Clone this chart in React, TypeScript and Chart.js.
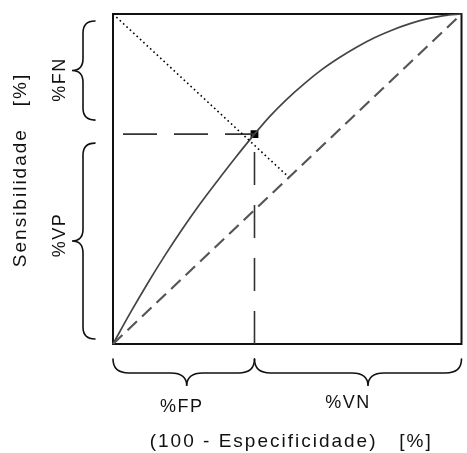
import React, { useEffect, useRef } from "react";
import { Chart, registerables } from "chart.js";

Chart.register(...registerables);

// ROC curve (x = 100 - especificidade, y = sensibilidade), in %
const rocX = [0, 5, 10, 15, 20, 25, 30, 35, 40.6, 45, 50, 55, 60, 65, 70, 75, 80, 85, 90, 95, 100];
const rocY = [0, 9.5, 18.5, 27, 35, 42.5, 49.5, 56.3, 63.6, 69, 74.3, 79, 83.2, 86.8, 90, 92.8, 95.1, 97, 98.5, 99.5, 100];

// chance diagonal
const diagX = [0, 100];
const diagY = [0, 100];

// dotted line from top-left corner towards the diagonal
const dotX = [0, 51];
const dotY = [100, 50];

// operating point
const cutX = 40.6;
const cutY = 63.6;

// labels
const yBraceLabels = ["%FN", "%VP"];
const xBraceLabels = ["%FP", "%VN"];
const xTitle = "(100 - Especificidade)   [%]";
const yTitle = "Sensibilidade   [%]";

const FONT = '"Liberation Sans", Arial, sans-serif';

function vBrace(ctx: CanvasRenderingContext2D, xs: number, y1: number, y2: number, ym: number, curl: number, tip: number) {
  const r = 12;
  ctx.beginPath();
  ctx.moveTo(xs + curl, y1);
  ctx.quadraticCurveTo(xs, y1, xs, y1 + r);
  ctx.lineTo(xs, ym - r);
  ctx.quadraticCurveTo(xs, ym, xs - tip, ym);
  ctx.quadraticCurveTo(xs, ym, xs, ym + r);
  ctx.lineTo(xs, y2 - r);
  ctx.quadraticCurveTo(xs, y2, xs + curl, y2);
  ctx.stroke();
}

function hBrace(ctx: CanvasRenderingContext2D, ys: number, x1: number, x2: number, xm: number, curl: number, tip: number) {
  const r = 16;
  ctx.beginPath();
  ctx.moveTo(x1, ys - curl);
  ctx.quadraticCurveTo(x1, ys, x1 + r, ys);
  ctx.lineTo(xm - r, ys);
  ctx.quadraticCurveTo(xm, ys, xm, ys + tip);
  ctx.quadraticCurveTo(xm, ys, xm + r, ys);
  ctx.lineTo(x2 - r, ys);
  ctx.quadraticCurveTo(x2, ys, x2, ys - curl);
  ctx.stroke();
}

function drawText(ctx: CanvasRenderingContext2D, text: string, x: number, y: number, size: number, spacing: number, rotate: boolean) {
  ctx.save();
  ctx.translate(x, y);
  if (rotate) ctx.rotate(-Math.PI / 2);
  ctx.font = `${size}px ${FONT}`;
  (ctx as any).letterSpacing = `${spacing}px`;
  ctx.textAlign = "center";
  ctx.textBaseline = "middle";
  ctx.fillStyle = "#111";
  ctx.fillText(text, 0, 0);
  ctx.restore();
}

const framePlugin = {
  id: "frame",
  beforeDatasetsDraw(chart: any) {
    const { ctx, chartArea: a } = chart;
    ctx.save();
    ctx.strokeStyle = "#111";
    ctx.lineWidth = 2;
    ctx.strokeRect(a.left, a.top, a.right - a.left, a.bottom - a.top);
    ctx.restore();
  },
};

const bracesPlugin = {
  id: "braces",
  afterDraw(chart: any) {
    const { ctx, scales } = chart;
    const x = scales.x;
    const y = scales.y;
    ctx.save();
    ctx.strokeStyle = "#111";
    ctx.lineWidth = 1.6;
    ctx.lineCap = "round";

    const yTop = y.getPixelForValue(100);
    const yCut = y.getPixelForValue(cutY);
    const yBot = y.getPixelForValue(0);
    const xL = x.getPixelForValue(0);
    const xCut = x.getPixelForValue(cutX);
    const xR = x.getPixelForValue(100);

    // left braces
    const spineX = xL - 30;
    const fn1 = yTop + 7, fn2 = yCut - 14;
    const vp1 = yCut + 9, vp2 = yBot - 5;
    vBrace(ctx, spineX, fn1, fn2, (fn1 + fn2) / 2, 12, 11);
    vBrace(ctx, spineX, vp1, vp2, (vp1 + vp2) / 2, 12, 11);

    // bottom braces
    const spineY = yBot + 29;
    hBrace(ctx, spineY, xL, xCut, (xL + xCut) / 2 + 3, 14, 13);
    hBrace(ctx, spineY, xCut, xR, (xCut + xR) / 2 + 10, 14, 13);
    ctx.restore();

    // labels
    drawText(ctx, yBraceLabels[0], xL - 53, (fn1 + fn2) / 2 + 9, 18, 1.5, true);
    drawText(ctx, yBraceLabels[1], xL - 53, (vp1 + vp2) / 2 - 6, 18, 1.5, true);
    drawText(ctx, xBraceLabels[0], (xL + xCut) / 2 - 2, yBot + 63, 18, 1.5, false);
    drawText(ctx, xBraceLabels[1], (xCut + xR) / 2 - 10, yBot + 59, 18, 1.5, false);

    drawText(ctx, xTitle, (xL + xR) / 2 + 4, yBot + 98, 19, 2, false);
    drawText(ctx, yTitle, 21, (yTop + yBot) / 2 - 9, 19, 2, true);
  },
};

export default function App() {
  const canvasRef = useRef<HTMLCanvasElement | null>(null);

  useEffect(() => {
    if (!canvasRef.current) return;
    const pts = (xs: number[], ys: number[]) => xs.map((v, i) => ({ x: v, y: ys[i] }));
    const chart = new Chart(canvasRef.current, {
      type: "scatter",
      data: {
        datasets: [
          {
            data: pts(diagX, diagY),
            showLine: true,
            borderColor: "#555",
            borderWidth: 2.2,
            borderDash: [13, 7],
            pointRadius: 0,
            clip: false as any,
          },
          {
            data: pts(dotX, dotY),
            showLine: true,
            borderColor: "#000",
            borderWidth: 1.6,
            borderDash: [1.6, 3],
            pointRadius: 0,
            clip: false as any,
          },
          {
            data: [
              { x: 0, y: cutY },
              { x: cutX, y: cutY },
            ],
            showLine: true,
            borderColor: "#333",
            borderWidth: 1.6,
            borderDash: [34, 17],
            borderDashOffset: 41,
            pointRadius: 0,
            clip: false as any,
          },
          {
            data: [
              { x: cutX, y: 0 },
              { x: cutX, y: cutY },
            ],
            showLine: true,
            borderColor: "#333",
            borderWidth: 1.6,
            borderDash: [33, 20],
            pointRadius: 0,
            clip: false as any,
          },
          {
            data: pts(rocX, rocY),
            showLine: true,
            borderColor: "#444",
            borderWidth: 1.7,
            cubicInterpolationMode: "monotone",
            pointRadius: 0,
            clip: false as any,
          },
          {
            data: [{ x: cutX, y: cutY }],
            pointStyle: "rect",
            pointRadius: 5.5,
            backgroundColor: "#000",
            borderColor: "#000",
            borderWidth: 0,
            clip: false as any,
          },
        ],
      },
      options: {
        animation: false,
        responsive: false,
        events: [],
        layout: { padding: { left: 113, top: 14, right: 4, bottom: 109 } },
        plugins: { legend: { display: false }, tooltip: { enabled: false } },
        scales: {
          x: { type: "linear", min: 0, max: 100, display: false },
          y: { type: "linear", min: 0, max: 100, display: false },
        },
      },
      plugins: [framePlugin, bracesPlugin],
    });
    return () => chart.destroy();
  }, []);

  return (
    <div style={{ position: "absolute", left: 0, top: 0, width: 467, height: 453, background: "#fff" }}>
      <canvas ref={canvasRef} width={467} height={453} style={{ display: "block", width: 467, height: 453 }} />
    </div>
  );
}
